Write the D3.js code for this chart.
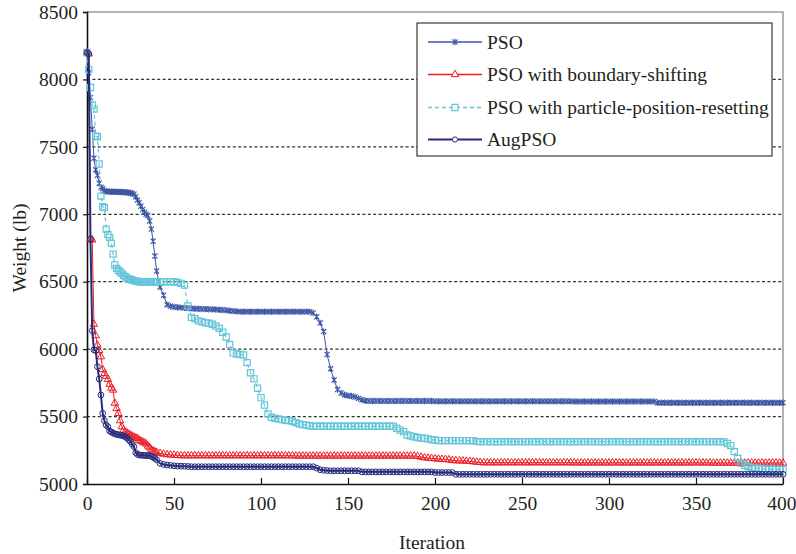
<!DOCTYPE html>
<html>
<head>
<meta charset="utf-8">
<script src="https://cdn.jsdelivr.net/npm/d3@7"></script>
<style>
  body { margin: 0; background: #fff; }
  svg { display: block; }
  text { font-family: "Liberation Serif", "Times New Roman", serif; fill: #231f20; }
</style>
</head>
<body>
<svg id="chart" width="796" height="554"></svg>
<script>
// Iterations sampled: every iteration up to 39, then every second one.
const iterations = d3.range(0, 40).concat(d3.range(40, 401, 2));

const seriesNames = ["PSO", "PSO with boundary-shifting", "PSO with particle-position-resetting", "AugPSO"];

const xTicks = [0, 50, 100, 150, 200, 250, 300, 350, 400];
const yTicks = [5000, 5500, 6000, 6500, 7000, 7500, 8000, 8500];

// Best weight (lb) per sampled iteration
const psoWeight = [
  8200,8050,7865,7630,7415,7330,7290,7230,7200,7190,
  7175,7170,7168,7168,7167,7167,7167,7166,7166,7165,
  7165,7164,7163,7162,7160,7158,7155,7148,7130,7106,
  7085,7060,7035,7015,7000,6990,6950,6890,6800,6690,
  6580,6460,6400,6330,6318,6312,6310,6308,6306,6304,
  6302,6300,6299,6298,6297,6296,6295,6294,6292,6290,
  6288,6285,6282,6280,6278,6278,6278,6278,6278,6278,
  6278,6278,6278,6278,6278,6278,6278,6278,6278,6278,
  6278,6278,6278,6278,6278,6268,6240,6195,6130,5960,
  5855,5771,5700,5675,5662,5655,5652,5645,5635,5625,
  5617,5615,5615,5615,5615,5615,5615,5615,5615,5615,
  5615,5615,5615,5615,5615,5615,5615,5615,5615,5615,
  5613,5613,5613,5613,5613,5613,5613,5613,5613,5613,
  5613,5613,5613,5613,5613,5613,5613,5613,5613,5613,
  5613,5613,5613,5613,5613,5613,5613,5613,5613,5613,
  5613,5613,5613,5613,5613,5613,5613,5613,5613,5613,
  5612,5612,5612,5612,5612,5612,5612,5612,5612,5612,
  5612,5612,5612,5612,5612,5612,5612,5612,5612,5612,
  5612,5612,5612,5612,5603,5603,5603,5603,5603,5603,
  5603,5603,5603,5603,5603,5603,5603,5603,5603,5603,
  5603,5603,5603,5603,5603,5603,5603,5603,5603,5603,
  5603,5603,5603,5603,5603,5603,5603,5603,5603,5603,
  5603
];

const boundaryShiftWeight = [
  8200,8190,6815,6810,6185,6100,6030,5990,5944,5850,
  5820,5800,5776,5740,5712,5697,5600,5560,5524,5470,
  5425,5400,5385,5378,5370,5363,5355,5348,5342,5338,
  5325,5318,5312,5305,5298,5282,5270,5255,5245,5240,
  5235,5228,5222,5218,5216,5214,5212,5210,5210,5210,
  5210,5210,5210,5210,5210,5210,5210,5210,5210,5210,
  5210,5210,5210,5210,5210,5210,5210,5210,5210,5210,
  5210,5210,5210,5210,5210,5210,5210,5210,5210,5210,
  5208,5208,5208,5208,5208,5208,5208,5208,5208,5208,
  5208,5208,5208,5208,5208,5208,5208,5208,5208,5208,
  5208,5208,5208,5208,5208,5208,5208,5208,5208,5208,
  5208,5208,5208,5208,5208,5205,5200,5195,5192,5190,
  5188,5185,5183,5182,5180,5175,5173,5172,5172,5170,
  5168,5165,5162,5160,5158,5158,5158,5158,5158,5158,
  5158,5158,5158,5158,5158,5158,5158,5158,5158,5158,
  5158,5158,5158,5158,5158,5158,5158,5158,5158,5158,
  5157,5157,5157,5157,5157,5157,5157,5157,5157,5157,
  5157,5157,5157,5157,5157,5157,5157,5157,5157,5157,
  5157,5157,5157,5157,5157,5157,5157,5157,5157,5157,
  5157,5157,5157,5157,5157,5157,5157,5157,5157,5157,
  5156,5156,5156,5156,5156,5156,5156,5156,5156,5156,
  5156,5156,5156,5156,5156,5156,5156,5156,5156,5156,
  5156
];

const positionResetWeight = [
  8200,8075,7940,7810,7780,7580,7575,7373,7135,7056,
  7049,6890,6850,6829,6785,6705,6624,6599,6585,6574,
  6562,6548,6537,6527,6520,6517,6512,6508,6505,6503,
  6500,6500,6500,6500,6500,6500,6500,6500,6500,6500,
  6500,6500,6500,6500,6500,6500,6495,6488,6475,6320,
  6236,6225,6210,6203,6196,6192,6185,6172,6155,6125,
  6090,6035,5972,5964,5960,5957,5900,5825,5780,5710,
  5640,5585,5520,5495,5487,5482,5477,5473,5470,5465,
  5455,5445,5440,5437,5432,5428,5428,5428,5428,5428,
  5428,5428,5428,5428,5428,5428,5428,5428,5428,5428,
  5428,5428,5428,5428,5428,5428,5428,5428,5428,5413,
  5400,5388,5363,5356,5350,5345,5340,5339,5335,5328,
  5326,5322,5322,5322,5322,5322,5322,5322,5322,5322,
  5322,5322,5314,5314,5314,5314,5314,5314,5314,5314,
  5314,5314,5314,5314,5314,5314,5314,5314,5314,5314,
  5314,5314,5314,5314,5314,5314,5314,5314,5314,5314,
  5314,5314,5314,5314,5314,5314,5314,5314,5314,5314,
  5314,5314,5314,5314,5314,5314,5314,5314,5314,5314,
  5314,5314,5314,5314,5314,5314,5314,5314,5314,5314,
  5314,5314,5314,5314,5314,5314,5314,5314,5314,5314,
  5314,5314,5314,5312,5300,5285,5240,5190,5153,5138,
  5130,5122,5118,5115,5112,5110,5110,5109,5108,5108,
  5108
];

const augPsoWeight = [
  8200,8190,6815,6137,5995,5990,5870,5779,5660,5524,
  5470,5437,5425,5393,5385,5378,5372,5368,5365,5363,
  5360,5356,5351,5340,5328,5314,5295,5277,5232,5220,
  5215,5214,5213,5212,5211,5210,5210,5205,5198,5190,
  5180,5153,5145,5141,5138,5135,5133,5132,5131,5130,
  5128,5128,5128,5128,5128,5128,5128,5128,5128,5128,
  5128,5128,5128,5128,5128,5128,5128,5128,5128,5128,
  5128,5128,5128,5128,5128,5128,5128,5128,5128,5128,
  5128,5128,5128,5128,5128,5128,5118,5106,5102,5100,
  5098,5098,5098,5098,5098,5098,5098,5098,5098,5090,
  5090,5090,5090,5090,5090,5090,5090,5090,5090,5090,
  5090,5090,5090,5090,5090,5090,5090,5090,5090,5090,
  5085,5085,5085,5085,5085,5085,5072,5072,5072,5072,
  5072,5072,5072,5072,5072,5072,5072,5072,5072,5072,
  5072,5072,5072,5072,5072,5072,5072,5072,5072,5072,
  5072,5072,5072,5072,5072,5072,5072,5072,5072,5072,
  5072,5072,5072,5072,5072,5072,5072,5072,5072,5072,
  5072,5072,5072,5072,5072,5072,5072,5072,5072,5072,
  5072,5072,5072,5072,5072,5072,5072,5072,5072,5072,
  5072,5072,5072,5072,5072,5072,5072,5072,5072,5072,
  5072,5072,5072,5072,5072,5072,5072,5072,5072,5072,
  5072,5072,5072,5072,5072,5072,5072,5072,5072,5072,
  5072
];

const svg = d3.select("#chart");
const plotLeft = 87, plotRight = 783, plotTop = 12, plotBottom = 484;

const x = d3.scaleLinear().domain([0, 400]).range([plotLeft, plotRight]);
const y = d3.scaleLinear().domain([5000, 8500]).range([plotBottom, plotTop]);

// Dotted horizontal gridlines
svg.append("g")
  .selectAll("line")
  .data(yTicks.filter(v => v > 5000 && v < 8500))
  .join("line")
  .attr("x1", plotLeft).attr("x2", plotRight)
  .attr("y1", d => y(d)).attr("y2", d => y(d))
  .attr("stroke", "#333").attr("stroke-width", 1.3)
  .attr("stroke-dasharray", "3,2.4");

// Grey frame on top and right
svg.append("path")
  .attr("d", `M${plotLeft},${y(8500)}H${plotRight}V${plotBottom}`)
  .attr("fill", "none").attr("stroke", "#9a9a9a").attr("stroke-width", 1.5);

// Axes
const yAxis = svg.append("g")
  .attr("transform", `translate(${plotLeft},0)`)
  .call(d3.axisLeft(y).tickValues(yTicks).tickSize(4).tickPadding(5).tickFormat(d3.format("d")));
const xAxis = svg.append("g")
  .attr("transform", `translate(0,${plotBottom})`)
  .call(d3.axisBottom(x).tickValues(xTicks).tickSizeInner(-6).tickSizeOuter(0).tickPadding(12));

[yAxis, xAxis].forEach(g => {
  g.attr("font-family", null);
  g.select(".domain").attr("stroke", "#111").attr("stroke-width", 1.6);
  g.selectAll(".tick line").attr("stroke", "#111").attr("stroke-width", 1.2);
  g.selectAll("text").attr("font-size", 19.5).attr("fill", "#231f20")
    .attr("font-family", '"Liberation Serif", "Times New Roman", serif');
});
// Keep the last x label inside the page edge
xAxis.selectAll(".tick text").filter(d => d === 400).attr("text-anchor", "end").attr("x", 13);

// Axis titles
svg.append("text")
  .attr("x", x(200) - 3).attr("y", 549)
  .attr("text-anchor", "middle").attr("font-size", 19.5)
  .text("Iteration");
svg.append("text")
  .attr("transform", "translate(26,248) rotate(-90)")
  .attr("text-anchor", "middle").attr("font-size", 19.5)
  .text("Weight (lb)");

// Marker shapes
const starPath = "M-2.6,-2.6L2.6,2.6M-2.6,2.6L2.6,-2.6M0,-3.2L0,3.2";
const triPath = d3.symbol(d3.symbolTriangle, 24)();
const sqPath = d3.symbol(d3.symbolSquare, 38)();

const series = [
  { name: seriesNames[0], values: psoWeight, color: "#3d55a6", width: 1, dash: null, marker: starPath, markerWidth: 1.1 },
  { name: seriesNames[1], values: boundaryShiftWeight, color: "#ec1c24", width: 1, dash: null, marker: triPath, markerWidth: 1 },
  { name: seriesNames[2], values: positionResetWeight, color: "#62c6d8", width: 1.2, dash: "4,3", marker: sqPath, markerWidth: 1.2 },
  { name: seriesNames[3], values: augPsoWeight, color: "#272c7a", width: 2, dash: null, marker: "circle", markerWidth: 1 }
];

const line = d3.line().x((d, i) => x(iterations[i])).y(d => y(d));

series.forEach(s => {
  const g = svg.append("g");
  g.append("path")
    .attr("d", line(s.values))
    .attr("fill", "none").attr("stroke", s.color)
    .attr("stroke-width", s.width)
    .attr("stroke-dasharray", s.dash);
  const pts = s.values.map((v, i) => [x(iterations[i]), y(v)]);
  if (s.marker === "circle") {
    g.selectAll("circle").data(pts).join("circle")
      .attr("cx", d => d[0]).attr("cy", d => d[1]).attr("r", 2.9)
      .attr("fill", "none").attr("stroke", s.color).attr("stroke-width", s.markerWidth);
  } else {
    g.selectAll("path.m").data(pts).join("path").attr("class", "m")
      .attr("transform", d => `translate(${d[0]},${d[1]})`)
      .attr("d", s.marker)
      .attr("fill", "none").attr("stroke", s.color).attr("stroke-width", s.markerWidth);
  }
});

// Legend
const legend = svg.append("g");
legend.append("rect")
  .attr("x", 417).attr("y", 23).attr("width", 355).attr("height", 133)
  .attr("fill", "#fff").attr("stroke", "#111").attr("stroke-width", 1);
const legendY = [42, 74.5, 107.5, 139.5];
series.forEach((s, i) => {
  const cy = legendY[i];
  legend.append("line")
    .attr("x1", 428).attr("x2", 482).attr("y1", cy).attr("y2", cy)
    .attr("stroke", s.color).attr("stroke-width", s.width === 2 ? 2.2 : 1.3)
    .attr("stroke-dasharray", s.dash);
  if (s.marker === "circle") {
    legend.append("circle").attr("cx", 455).attr("cy", cy).attr("r", 2.6)
      .attr("fill", "#fff").attr("stroke", s.color).attr("stroke-width", 1);
  } else {
    legend.append("path").attr("transform", `translate(455,${cy})`)
      .attr("d", s.marker).attr("fill", "#fff")
      .attr("stroke", s.color).attr("stroke-width", s.markerWidth);
  }
  legend.append("text")
    .attr("x", 487).attr("y", cy + 6.5)
    .attr("font-size", 19.5)
    .text(s.name);
});
</script>
</body>
</html>
